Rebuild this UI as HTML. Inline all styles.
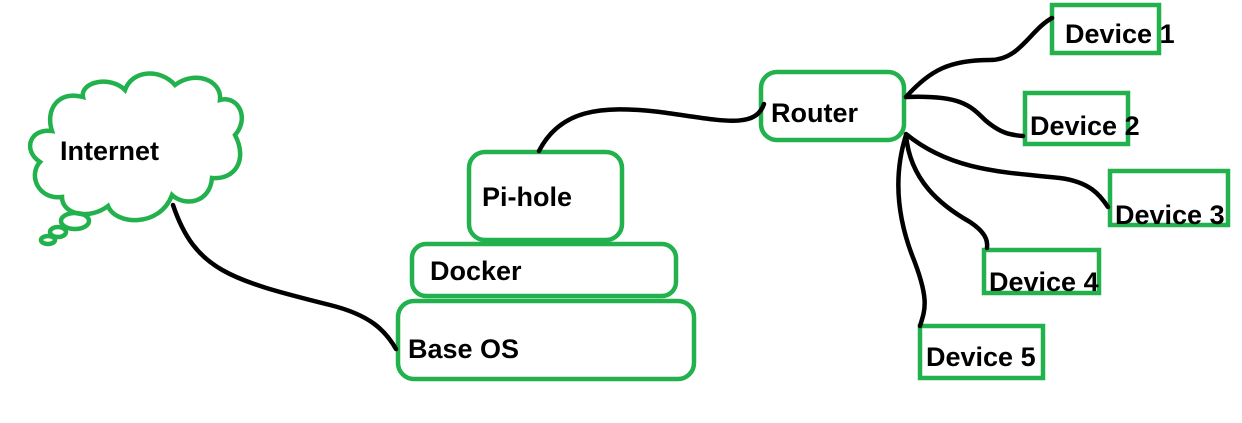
<!DOCTYPE html>
<html><head><meta charset="utf-8"><style>
html,body{margin:0;padding:0;background:#fff;}
svg{display:block;}
text{font-family:"Liberation Sans",sans-serif;font-weight:bold;font-size:27px;fill:#000;}
</style></head><body>
<svg width="1242" height="423" viewBox="0 0 1242 423" xmlns="http://www.w3.org/2000/svg">
<g fill="none" stroke="#22b14c" stroke-width="4.5">
<path d="M52,131 C30,128 22,150 40,162 C28,175 38,200 62,197 C62,215 90,220 108,206 C115,225 160,228 172,195 C185,207 210,203 212,178 C235,180 248,160 235,135 C250,118 238,95 220,100 C222,80 195,70 175,85 C160,68 132,70 125,90 C110,75 80,82 83,97 C58,90 45,110 52,131 Z"/>
<ellipse cx="75" cy="221" rx="14" ry="8"/>
<ellipse cx="58" cy="232" rx="8" ry="5"/>
<ellipse cx="48" cy="240" rx="7" ry="4"/>
<rect x="398" y="301" width="296" height="78" rx="16"/>
<rect x="412" y="244" width="264" height="52" rx="14"/>
<rect x="469" y="152" width="153" height="88" rx="16"/>
<rect x="761" y="72" width="143" height="68" rx="16"/>
<rect x="1052" y="5" width="107" height="48"/>
<rect x="1025" y="93" width="103" height="51"/>
<rect x="1110" y="171" width="118" height="54"/>
<rect x="984" y="250" width="115" height="43"/>
<rect x="920" y="326" width="123" height="52"/>
</g>
<g fill="none" stroke="#000" stroke-width="4.5" stroke-linecap="round">
<path d="M173,205 C195,270 230,280 330,305 C370,315 385,330 396,349"/>
<path d="M539,151 C560,110 600,105 660,112 C720,120 755,130 764,104"/>
<path d="M906,97 C930,70 950,60 990,60 C1020,60 1030,30 1052,18"/>
<path d="M906,97 C960,95 970,105 985,120 C1000,133 1010,135 1023,136"/>
<path d="M906,134 C950,170 1000,172 1060,178 C1090,182 1100,195 1108,207"/>
<path d="M906,135 C910,180 940,205 970,222 C985,232 988,240 987,248"/>
<path d="M906,135 C895,170 895,210 912,255 C930,300 925,310 920,326"/>
</g>
<text x="60" y="160">Internet</text>
<text x="482" y="206">Pi-hole</text>
<text x="430" y="280">Docker</text>
<text x="408" y="358">Base OS</text>
<text x="771" y="122">Router</text>
<text x="1065" y="43">Device 1</text>
<text x="1030" y="135">Device 2</text>
<text x="1115" y="224">Device 3</text>
<text x="989" y="291">Device 4</text>
<text x="926" y="366">Device 5</text>
</svg>
</body></html>
